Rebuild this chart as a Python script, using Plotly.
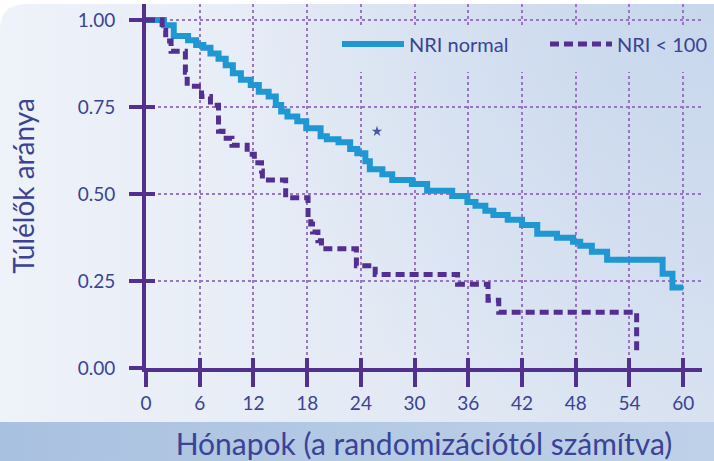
import base64
import plotly.graph_objects as go

# ---------------- data ----------------
normal_t = [0, 2.0, 3.1, 4.7, 5.6, 6.4, 7.2, 8.1, 8.9, 9.7, 10.6, 11.7, 12.6, 13.7, 14.5,
            15.1, 15.8, 16.9, 17.9, 19.5, 20.2, 21.5, 22.8, 23.6, 24.5, 25.0, 26.4, 27.5,
            29.7, 31.4, 34.2, 35.9, 36.8, 37.9, 38.8, 40.4, 42.0, 43.7, 45.9, 47.7, 48.5,
            49.8, 51.5, 57.7, 58.8, 60.0]
normal_s = [1.0, 0.985, 0.954, 0.942, 0.928, 0.92, 0.904, 0.889, 0.87, 0.847, 0.828, 0.813,
            0.794, 0.78, 0.756, 0.737, 0.723, 0.709, 0.689, 0.666, 0.657, 0.649, 0.629, 0.617,
            0.594, 0.571, 0.557, 0.54, 0.529, 0.509, 0.494, 0.477, 0.466, 0.452, 0.44, 0.426,
            0.411, 0.386, 0.374, 0.363, 0.351, 0.334, 0.311, 0.271, 0.231, 0.231]

low_t = [0, 1.8, 2.2, 2.8, 4.4, 4.6, 6.2, 7.2, 8.1, 8.6, 9.6, 11.3, 12.1, 12.9, 13.0, 15.6,
         18.1, 18.4, 18.6, 19.2, 19.6, 23.5, 25.6, 34.8, 38.2, 39.4, 54.8]
low_s = [1.0, 0.97, 0.94, 0.91, 0.85, 0.81, 0.78, 0.755, 0.68, 0.66, 0.64, 0.614, 0.59, 0.566,
         0.54, 0.489, 0.43, 0.414, 0.391, 0.366, 0.343, 0.294, 0.269, 0.241, 0.195, 0.16, 0.05]

star_t = [25.8]
star_s = [0.68]

series_names = ["NRI normal", "NRI < 100"]
x_ticks = [0, 6, 12, 18, 24, 30, 36, 42, 48, 54, 60]
y_ticks = [0.0, 0.25, 0.5, 0.75, 1.0]
y_ticklabels = ["0.00", "0.25", "0.50", "0.75", "1.00"]
x_title = "Hónapok (a randomizációtól számítva)"
y_title = "Túlélők aránya"

# ---------------- styling ----------------
W, H = 714, 461
L, R, T, B = 146, 702, 4, 368          # plot area in canvas px
PW, PH = R - L, B - T
X_MAX = 62.1
Y_MAX = 1.046

BLUE = "#1f97d3"
PURPLE = "#532f92"
AXIS = "#52308f"
TXT = "#3a4396"
GRID = "#9a76c2"
FONT = "Lato, 'Open Sans', sans-serif"


def bg_svg(vx, vy, vw, vh):
    svg = f"""<svg xmlns='http://www.w3.org/2000/svg' width='{vw}' height='{vh}' viewBox='{vx} {vy} {vw} {vh}' preserveAspectRatio='none'>
<defs>
<linearGradient id='g' gradientUnits='userSpaceOnUse' x1='0' y1='0' x2='{W}' y2='0'>
<stop offset='0' stop-color='#eef2f9'/><stop offset='1' stop-color='#dae3f1'/></linearGradient>
<radialGradient id='r' gradientUnits='userSpaceOnUse' cx='{W}' cy='0' r='480'>
<stop offset='0' stop-color='#c6d6ec' stop-opacity='0.95'/><stop offset='1' stop-color='#c6d6ec' stop-opacity='0'/></radialGradient>
<linearGradient id='b' gradientUnits='userSpaceOnUse' x1='0' y1='0' x2='{W}' y2='0'>
<stop offset='0' stop-color='#a9c1e0'/><stop offset='1' stop-color='#bfd1e8'/></linearGradient>
</defs>
<rect x='0' y='0' width='{W}' height='{H}' fill='#ffffff'/>
<path d='M0,30 Q0,4 26,4 L{W},4 L{W},{H} L0,{H} Z' fill='url(#g)'/>
<path d='M0,30 Q0,4 26,4 L{W},4 L{W},{H} L0,{H} Z' fill='url(#r)'/>
<rect x='0' y='422' width='{W}' height='{H - 422}' fill='url(#b)'/>
</svg>"""
    return "data:image/svg+xml;base64," + base64.b64encode(svg.encode()).decode()


def px2paper_x(X):
    return (X - L) / PW


def px2paper_y(Y):
    return (B - Y) / PH


fig = go.Figure()

fig.add_trace(go.Scatter(
    x=normal_t, y=normal_s, mode="lines", name=series_names[0], legend="legend",
    line=dict(color=BLUE, width=6, shape="hv"), hoverinfo="skip"))
fig.add_trace(go.Scatter(
    x=low_t, y=low_s, mode="lines", name=series_names[1], legend="legend2",
    line=dict(color=PURPLE, width=5, shape="hv", dash="9px,5px"), hoverinfo="skip"))
fig.add_trace(go.Scatter(
    x=star_t, y=star_s, mode="markers", showlegend=False, hoverinfo="skip",
    marker=dict(symbol="star", size=8, color="#4a54a8")))
# helper trace for the overlaid (inside-tick) axes
fig.add_trace(go.Scatter(x=[None], y=[None], xaxis="x2", yaxis="y2",
                         showlegend=False, hoverinfo="skip"))

legend_common = dict(
    orientation="h", yanchor="middle", xanchor="left",
    font=dict(family=FONT, size=20, color=TXT),
    bgcolor="rgba(0,0,0,0)", itemwidth=62,
)

grid_style = dict(showgrid=True, gridcolor=GRID, gridwidth=2, griddash="dot")

fig.update_layout(
    width=W, height=H,
    margin=dict(l=L, r=W - R, t=T, b=H - B, pad=0, autoexpand=False),
    paper_bgcolor="#ffffff",
    plot_bgcolor="rgba(0,0,0,0)",
    font=dict(family=FONT, color=TXT, size=18),
    showlegend=True,
    legend=dict(x=px2paper_x(337), y=px2paper_y(44), **legend_common),
    legend2=dict(x=px2paper_x(545), y=px2paper_y(44), **legend_common),
    xaxis=dict(
        range=[0, X_MAX], tickvals=x_ticks, ticktext=[str(v) for v in x_ticks],
        showline=True, linecolor=AXIS, linewidth=4,
        ticks="outside", ticklen=15, tickwidth=4, tickcolor=AXIS,
        tickfont=dict(family=FONT, size=19, color=TXT),
        zeroline=False, automargin=False,
        title=dict(text=x_title, font=dict(family=FONT, size=30, color=TXT), standoff=23),
        fixedrange=True, **grid_style,
    ),
    yaxis=dict(
        range=[0, Y_MAX], tickvals=y_ticks, ticktext=y_ticklabels,
        showline=True, linecolor=AXIS, linewidth=4,
        ticks="outside", ticklen=13, tickwidth=4, tickcolor=AXIS,
        tickfont=dict(family=FONT, size=19, color=TXT), ticklabelstandoff=10,
        zeroline=False, automargin=False,
        title=dict(text=y_title, font=dict(family=FONT, size=28, color=TXT), standoff=36),
        fixedrange=True, **grid_style,
    ),
    xaxis2=dict(
        overlaying="x", anchor="y2", range=[0, X_MAX], tickvals=x_ticks,
        showticklabels=False, zeroline=False, showline=False, showgrid=False,
        ticks="inside", ticklen=10, tickwidth=4, tickcolor=AXIS, fixedrange=True,
        automargin=False,
    ),
    yaxis2=dict(
        overlaying="y", anchor="x2", range=[0, Y_MAX], tickvals=y_ticks,
        showticklabels=False, zeroline=False, showline=False, showgrid=False,
        ticks="inside", ticklen=9, tickwidth=4, tickcolor=AXIS, fixedrange=True,
        automargin=False,
    ),
    images=[
        dict(source=bg_svg(0, 0, W, H), xref="paper", yref="paper",
             x=px2paper_x(0), y=px2paper_y(0), sizex=W / PW, sizey=H / PH,
             xanchor="left", yanchor="top", sizing="stretch", layer="below"),
        dict(source=bg_svg(325, 25, W - 325, 47), xref="paper", yref="paper",
             x=px2paper_x(325), y=px2paper_y(25), sizex=(W - 325) / PW, sizey=47 / PH,
             xanchor="left", yanchor="top", sizing="stretch", layer="above"),
    ],
)

fig.write_html(
    "out.html",
    config={"displayModeBar": False},
    post_script="document.body.style.margin='0px';document.body.style.overflow='hidden';",
)
